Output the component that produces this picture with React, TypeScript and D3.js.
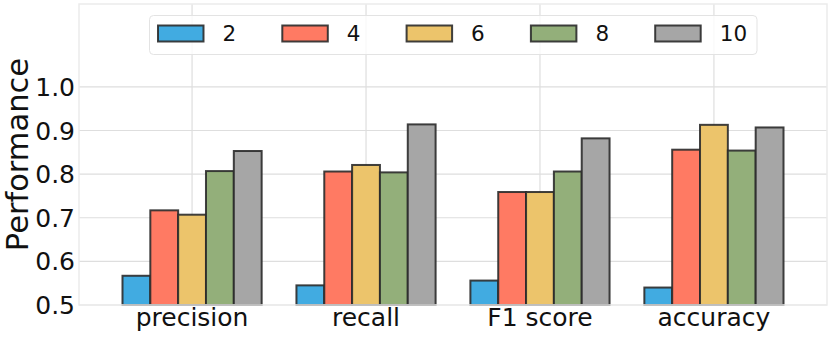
import React from 'react';
import * as d3 from 'd3';

const WIDTH = 831;
const HEIGHT = 337;
const MARGIN = { top: 4, right: 4, bottom: 32, left: 79 };

const metrics = ['precision', 'recall', 'F1 score', 'accuracy'];
const seriesNames = ['2', '4', '6', '8', '10'];
const colors = ['#41abe1', '#ff7a63', '#ecc46b', '#93af7a', '#a6a6a6'];

// one array per series, in metric order
const s2 = [0.567, 0.545, 0.556, 0.54];
const s4 = [0.717, 0.806, 0.759, 0.856];
const s6 = [0.707, 0.821, 0.759, 0.913];
const s8 = [0.807, 0.804, 0.806, 0.854];
const s10 = [0.853, 0.914, 0.882, 0.907];
const seriesValues = [s2, s4, s6, s8, s10];

const yTicks = [0.5, 0.6, 0.7, 0.8, 0.9, 1.0];

const FONT = 'DejaVu Sans, sans-serif';
const BAR_W = 0.16;

export default function App() {
  const boundsW = WIDTH - MARGIN.left - MARGIN.right;
  const boundsH = HEIGHT - MARGIN.top - MARGIN.bottom;

  const xScale = d3.scaleLinear().domain([-0.65, metrics.length - 0.35]).range([0, boundsW]);
  const yScale = d3.scaleLinear().domain([0.5, 1.19]).range([boundsH, 0]);
  const bw = xScale(BAR_W) - xScale(0);

  const bars = seriesValues.flatMap((vals, si) =>
    vals.map((v, mi) => {
      const cx = mi + (si - 2) * BAR_W;
      const x = xScale(cx) - bw / 2;
      const y = yScale(v);
      return (
        <rect
          key={`${si}-${mi}`}
          x={x}
          y={y}
          width={bw}
          height={boundsH - y}
          fill={colors[si]}
          stroke="#2b2b2b"
          strokeOpacity={0.9}
          strokeWidth={2}
        />
      );
    })
  );

  // legend
  const legX = 149.5 - MARGIN.left;
  const legY = 15.5 - MARGIN.top;
  const legStep = 124.3;

  return (
    <svg width={WIDTH} height={HEIGHT} style={{ display: 'block', position: 'absolute', left: 0, top: 0 }}>
      <rect width={WIDTH} height={HEIGHT} fill="white" />
      <g transform={`translate(${MARGIN.left},${MARGIN.top})`}>
        {/* grid */}
        {yTicks.map(t => (
          <line key={t} x1={0} x2={boundsW} y1={yScale(t)} y2={yScale(t)} stroke="#dedede" strokeWidth={1.2} />
        ))}
        {metrics.map((m, i) => (
          <line key={m} x1={xScale(i)} x2={xScale(i)} y1={0} y2={boundsH} stroke="#dedede" strokeWidth={1.2} />
        ))}
        {bars}
        {/* frame */}
        <rect x={0} y={0} width={boundsW} height={boundsH} fill="none" stroke="#ebebeb" strokeWidth={1.5} />
        {/* y ticks */}
        {yTicks.map(t => (
          <text key={t} x={-4} y={yScale(t)} dy="0.36em" textAnchor="end" fontSize={25} fontFamily={FONT} fill="#111">
            {t.toFixed(1)}
          </text>
        ))}
        {/* x ticks */}
        {metrics.map((m, i) => (
          <text key={m} x={xScale(i)} y={boundsH + 21} textAnchor="middle" fontSize={25} fontFamily={FONT} fill="#111">
            {m}
          </text>
        ))}
        {/* legend */}
        <rect x={legX} y={legY} width={607.5} height={39} rx={4} fill="white" fillOpacity={0.8} stroke="#e3e3e3" strokeWidth={1} />
        {seriesNames.map((name, i) => (
          <g key={name} transform={`translate(${legX + 8.5 + i * legStep},${legY + 10})`}>
            <rect width={45.5} height={16} fill={colors[i]} stroke="#2b2b2b" strokeOpacity={0.9} strokeWidth={2} />
            <text x={64.5} y={8} dy="0.36em" fontSize={21.5} fontFamily={FONT} fill="#111">
              {name}
            </text>
          </g>
        ))}
      </g>
      <text
        transform={`translate(28,${MARGIN.top + boundsH / 2}) rotate(-90)`}
        textAnchor="middle"
        fontSize={30.5}
        fontFamily={FONT}
        fill="#111"
      >
        Performance
      </text>
    </svg>
  );
}
